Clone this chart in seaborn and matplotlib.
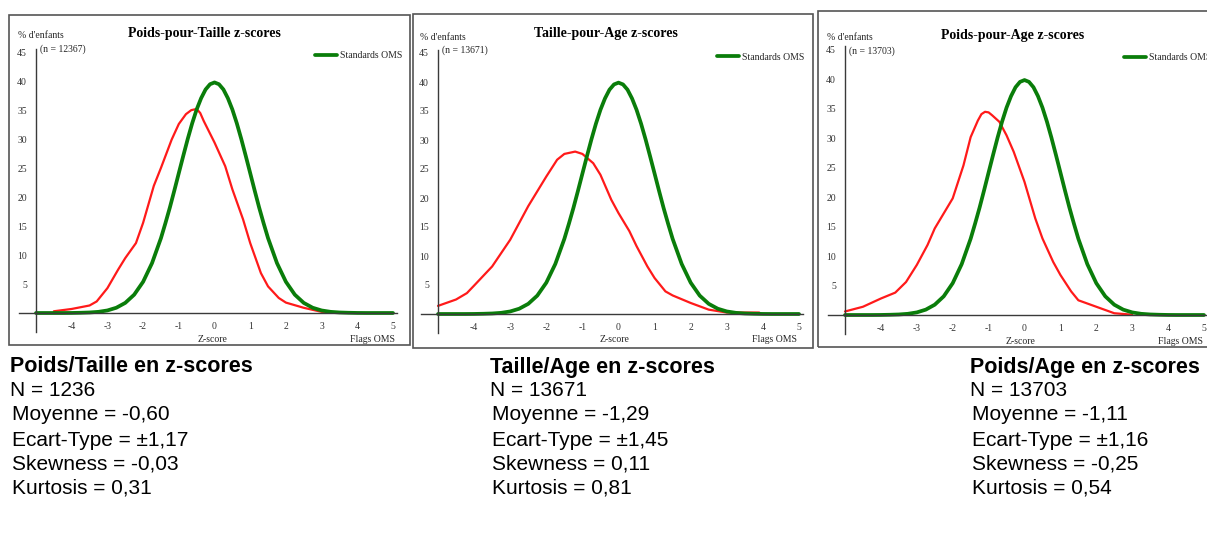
import numpy as np
import pandas as pd
import seaborn as sns
import matplotlib.pyplot as plt
from matplotlib.patches import Rectangle

# Courbe de reference OMS
z_oms = [-5, -4.75, -4.5, -4.25, -4, -3.75, -3.5, -3.25, -3, -2.75, -2.5, -2.25, -2,
         -1.75, -1.5, -1.375, -1.25, -1.125, -1, -0.875, -0.75, -0.625, -0.5, -0.375, -0.25, -0.125,
         0, 0.125, 0.25, 0.375, 0.5, 0.625, 0.75, 0.875, 1, 1.125, 1.25, 1.375,
         1.5, 1.75, 2, 2.25, 2.5, 2.75, 3, 3.25, 3.5, 3.75, 4, 4.25, 4.5, 4.75, 5]
pct_oms = [0, 0, 0, 0, 0.01, 0.04, 0.09, 0.2, 0.44, 0.91, 1.75, 3.17, 5.4,
           8.63, 12.95, 15.54, 18.26, 21.19, 24.2, 27.19, 30.11, 32.82, 35.21, 37.16, 38.67, 39.58,
           39.89, 39.58, 38.67, 37.16, 35.21, 32.82, 30.11, 27.19, 24.2, 21.19, 18.26, 15.54,
           12.95, 8.63, 5.4, 3.17, 1.75, 0.91, 0.44, 0.2, 0.09, 0.04, 0.01, 0, 0, 0, 0]

# Poids-pour-Taille
z_pt = [-4.5, -4, -3.5, -3.3, -3, -2.7, -2.5, -2.2, -2, -1.7, -1.5, -1.2, -1, -0.8, -0.65, -0.5,
        -0.4, -0.3, 0, 0.3, 0.5, 0.8, 1, 1.3, 1.5, 1.8, 2, 2.5, 3, 3.2]
pct_pt = [0.3, 0.7, 1.3, 2.0, 4.3, 7.5, 9.5, 12.1, 15.6, 22.0, 25.1, 30.0, 32.7, 34.4, 35.1, 35.3,
          34.6, 33.2, 29.5, 25.4, 21.4, 16.2, 12.1, 6.9, 4.6, 2.6, 1.8, 0.9, 0.2, 0.1]

# Taille-pour-Age
z_ta = [-5, -4.5, -4.2, -4, -3.5, -3, -2.5, -2, -1.7, -1.5, -1.2, -1, -0.7, -0.5, -0.2, 0,
        0.3, 0.5, 0.8, 1, 1.3, 1.5, 2, 2.5, 3, 3.5, 3.9]
pct_ta = [1.4, 2.5, 3.6, 4.9, 8.2, 12.8, 18.6, 23.7, 26.6, 27.6, 28.0, 27.6, 26.0, 24.0, 19.7, 17.4,
          14.3, 11.7, 8.2, 6.2, 3.9, 3.2, 1.9, 0.75, 0.25, 0.25, 0.25]

# Poids-pour-Age
z_pa = [-5, -4.5, -4, -3.6, -3.3, -3, -2.7, -2.5, -2, -1.7, -1.5, -1.3, -1.2, -1.1, -1.0, -0.9,
        -0.7, -0.5, -0.3, 0, 0.3, 0.5, 0.8, 1, 1.3, 1.5, 2, 2.5, 3]
pct_pa = [0.6, 1.4, 2.8, 3.8, 5.6, 8.5, 11.9, 14.7, 19.8, 25.4, 30.2, 33.0, 34.1, 34.5, 34.4, 33.9,
          32.8, 30.5, 27.7, 22.6, 16.4, 13.0, 9.0, 6.8, 4.0, 2.5, 1.4, 0.3, 0.05]

titres = ["Poids-pour-Taille z-scores", "Taille-pour-Age z-scores", "Poids-pour-Age z-scores"]
effectifs = ["(n = 12367)", "(n = 13671)", "(n = 13703)"]
x_ticks = [-4, -3, -2, -1, 0, 1, 2, 3, 4, 5]
y_ticks = [5, 10, 15, 20, 25, 30, 35, 40, 45]

stats_titres = ["Poids/Taille en z-scores", "Taille/Age en z-scores", "Poids/Age en z-scores"]
stats_n = ["N = 1236", "N = 13671", "N = 13703"]
stats_moy = ["Moyenne = -0,60", "Moyenne = -1,29", "Moyenne = -1,11"]
stats_et = ["Ecart-Type = \u00b11,17", "Ecart-Type = \u00b11,45", "Ecart-Type = \u00b11,16"]
stats_skew = ["Skewness = -0,03", "Skewness = 0,11", "Skewness = -0,25"]
stats_kurt = ["Kurtosis = 0,31", "Kurtosis = 0,81", "Kurtosis = 0,54"]

courbes = [(z_pt, pct_pt), (z_ta, pct_ta), (z_pa, pct_pa)]

sns.set_style("white")
plt.rcParams['font.family'] = ['Liberation Serif', 'DejaVu Serif']

W, H = 1207, 542
fig = plt.figure(figsize=(W / 100, H / 100), dpi=100)


def fx(px):
    return px / W


def fy(py):
    return 1 - py / H


# position pixel de z=-5 / y=0 et echelles par panneau
panneaux = [
    dict(x0=36, xs=35.7, y0=313, ys=5.78, box=(9, 15, 410, 345), txt=10),
    dict(x0=438, xs=36.1, y0=314, ys=5.8, box=(413, 14, 813, 348), txt=490),
    dict(x0=845, xs=35.9, y0=315, ys=5.89, box=(818, 11, 1215, 347), txt=970),
]

XMIN, XMAX, YMIN, YMAX = -5.48, 5.12, -8, 50
gris = "#3a3a3a"
df_oms = pd.DataFrame({"z": z_oms, "pct": pct_oms})

for i, p in enumerate(panneaux):
    x0, xs, y0, ys = p["x0"], p["xs"], p["y0"], p["ys"]
    left = x0 + (XMIN + 5) * xs
    right = x0 + (XMAX + 5) * xs
    top = y0 - YMAX * ys
    bottom = y0 - YMIN * ys
    ax = fig.add_axes([fx(left), fy(bottom), (right - left) / W, (bottom - top) / H])
    ax.patch.set_alpha(0)

    df_obs = pd.DataFrame({"z": courbes[i][0], "pct": courbes[i][1]})
    sns.lineplot(data=df_obs, x="z", y="pct", ax=ax, color="#ff1a1a", linewidth=1.6)
    sns.lineplot(data=df_oms, x="z", y="pct", ax=ax, color="#0a7d0a", linewidth=2.7,
                 label="Standards OMS")

    ax.set_xlim(XMIN, XMAX)
    ax.set_ylim(YMIN, YMAX)
    ax.set_xlabel("")
    ax.set_ylabel("")
    ax.spines['top'].set_visible(False)
    ax.spines['right'].set_visible(False)
    ax.spines['bottom'].set_position(('data', 0))
    ax.spines['left'].set_position(('data', -5))
    ax.spines['left'].set_bounds(-3.3, 45.6)
    for s in ['bottom', 'left']:
        ax.spines[s].set_color(gris)
        ax.spines[s].set_linewidth(1.0)
    ax.set_xticks(x_ticks)
    ax.set_xticklabels([str(t) for t in x_ticks])
    ax.set_yticks(y_ticks)
    ax.set_yticklabels([str(t) for t in y_ticks])
    ax.tick_params(axis='both', direction='inout', length=6.5, width=1.0, color=gris,
                   labelsize=7, labelcolor="#333333")
    ax.tick_params(axis='x', pad=3)
    ax.tick_params(axis='y', pad=3.5, length=6)

    # la legende du 3e panneau est coupee par le bord, comme dans l'original
    ax.legend(loc='center left', bbox_to_anchor=(fx(x0 + 279), fy(y0 - 257)),
              bbox_transform=fig.transFigure, frameon=False, fontsize=7,
              handlelength=2.3, handletextpad=0.25, borderpad=0, borderaxespad=0)

    fig.text(fx(x0 - 18), fy(y0 - 277), "% d'enfants", fontsize=7, va='center', ha='left')
    fig.text(fx(x0 + 4), fy(y0 - 264), effectifs[i], fontsize=7, va='center', ha='left')
    fig.text(fx(x0 + 168), fy(y0 - 280), titres[i], fontsize=10, fontweight='bold',
             va='center', ha='center', color='black')
    fig.text(fx(x0 + 176), fy(y0 + 26), "Z-score", fontsize=7, va='center', ha='center')
    fig.text(fx(x0 + 336), fy(y0 + 26), "Flags OMS", fontsize=7, va='center', ha='center')

    bx0, by0, bx1, by1 = p["box"]
    fig.patches.append(Rectangle((fx(bx0), fy(by1)), (bx1 - bx0) / W, (by1 - by0) / H,
                                 transform=fig.transFigure, fill=False,
                                 edgecolor="#555555", linewidth=1.2))

    # bloc de statistiques sous le graphique
    lignes = [stats_titres[i], stats_n[i], stats_moy[i], stats_et[i], stats_skew[i], stats_kurt[i]]
    ys_txt = [367, 391, 415, 440, 464, 488]
    for j, (t, yy) in enumerate(zip(lignes, ys_txt)):
        fig.text(fx(p["txt"] + (2 if j > 1 else 0)), fy(yy), t,
                 fontsize=15.5 if j == 0 else 15,
                 family=['Liberation Sans', 'DejaVu Sans'], color='black',
                 fontweight='bold' if j == 0 else 'normal', va='center', ha='left')

fig.savefig("out.png", dpi=100)
